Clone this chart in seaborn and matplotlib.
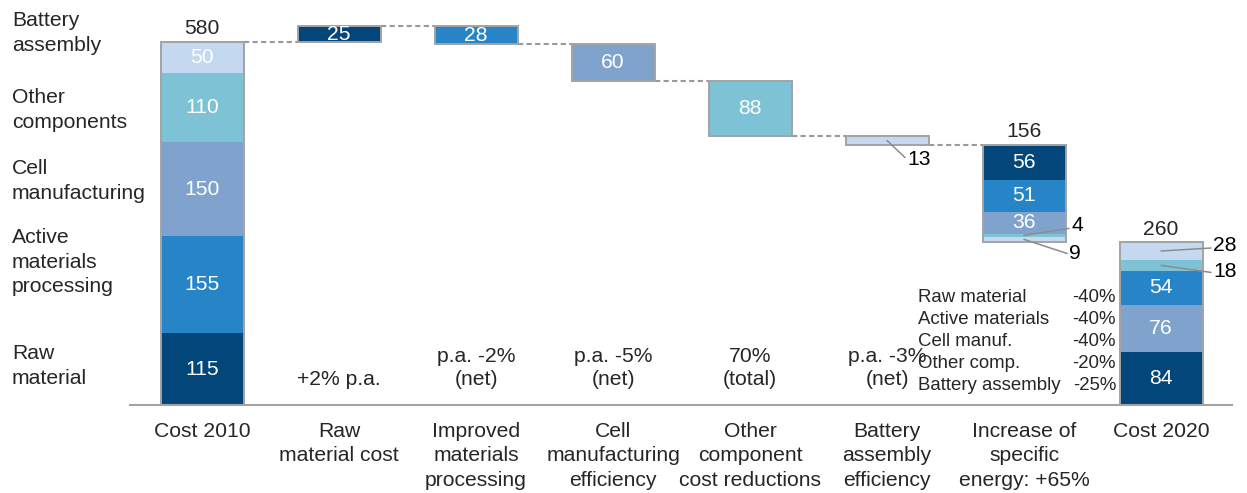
import numpy as np
import pandas as pd
import matplotlib
matplotlib.use("Agg")
import matplotlib.pyplot as plt
import seaborn as sns

# ---------------- data ----------------
categories = ["Cost 2010", "Raw\nmaterial cost", "Improved\nmaterials\nprocessing",
              "Cell\nmanufacturing\nefficiency", "Other\ncomponent\ncost reductions",
              "Battery\nassembly\nefficiency", "Increase of\nspecific\nenergy: +65%", "Cost 2020"]
layers = ["Raw\nmaterial", "Active\nmaterials\nprocessing", "Cell\nmanufacturing",
          "Other\ncomponents", "Battery\nassembly"]
layer_colors = ["#02467a", "#2785c7", "#80a3cd", "#7ec3d5", "#c4d9f0"]

cost_2010 = [115, 155, 150, 110, 50]       # per layer, bottom -> top
step_changes = [25, -28, -60, -88, -13]    # categories 1..5, one layer each
energy_gain = [56, 51, 36, 4, 9]           # per layer, top -> bottom
cost_2020 = [84, 76, 54, 18, 28]           # bottom -> top
cost_2020_layers = [0, 2, 1, 3, 4]         # colour layer of each 2020 segment
bottom_notes = ["", "+2% p.a.", "p.a. -2%\n(net)", "p.a. -5%\n(net)",
                "70%\n(total)", "p.a. -3%\n(net)", "", ""]
reduction_names = ["Raw material", "Active materials", "Cell manuf.",
                   "Other comp.", "Battery assembly"]
reduction_pcts = ["-40%", "-40%", "-40%", "-20%", "-25%"]

# ---------------- style ----------------
sns.set_style("white")
plt.rcParams["font.family"] = ["Liberation Sans", "DejaVu Sans"]
FS = 15.2
GRAY = "#a3a3a3"

W, H = 1247, 493
fig = plt.figure(figsize=(W / 100, H / 100), dpi=100)
ax = fig.add_axes([130 / W, 88 / H, 1102 / W, 405 / H])

# ---------------- build segments ----------------
segs = []  # (cat, layer, bottom, height)
b = 0
for li, v in enumerate(cost_2010):
    segs.append((0, li, b, v))
    b += v
level = b
levels = [level]
for k, d in enumerate(step_changes):
    ci = k + 1
    new = level + d
    segs.append((ci, k, min(level, new), abs(d)))
    level = new
    levels.append(level)
top = level
for li, v in enumerate(energy_gain):
    segs.append((6, li, top - v, v))
    top -= v
b = 0
for li, v in zip(cost_2020_layers, cost_2020):
    segs.append((7, li, b, v))
    b += v

n = len(categories)
BW = 0.606
for li in range(len(layers)):
    heights = np.zeros(n)
    bottoms = np.zeros(n)
    for ci, l, bo, h in segs:
        if l == li:
            heights[ci] = h
            bottoms[ci] = bo
    df = pd.DataFrame({"cat": categories, "h": heights})
    sns.barplot(data=df, x="cat", y="h", order=categories, bottom=bottoms,
                color=layer_colors[li], saturation=1, width=BW, errorbar=None,
                linewidth=0, ax=ax)

# outlines of each column
bots = np.full(n, np.inf)
tops = np.full(n, -np.inf)
for ci, l, bo, h in segs:
    bots[ci] = min(bots[ci], bo)
    tops[ci] = max(tops[ci], bo + h)
ax.bar(np.arange(n), tops - bots, bottom=bots, width=BW, fill=False,
       edgecolor=GRAY, linewidth=1.4, zorder=3)

# dashed connectors
for i, lv in enumerate(levels):
    ax.plot([i + BW / 2, i + 1 - BW / 2], [lv, lv], color="#999999", lw=1.5,
            ls=(0, (2.5, 1.6)), zorder=1)

# ---------------- labels ----------------
external = {
    (5, 4): ((18, -17), (20, -19)),
    (6, 3): ((45, 7), (47, 10)),
    (6, 4): ((43, -14), (45, -14)),
    (7, 4): ((50, 3), (52, 6)),
    (7, 3): ((50, -7), (52, -6)),
}
for ci, l, bo, h in segs:
    mid = bo + h / 2
    if (ci, l) in external:
        (lx, ly), (tx, ty) = external[(ci, l)]
        ax.annotate("", xy=(ci, mid), xytext=(lx, ly), textcoords="offset pixels",
                    arrowprops=dict(arrowstyle="-", color="#8c8c8c", lw=1.1,
                                    shrinkA=0, shrinkB=0), zorder=4)
        ax.annotate(f"{h:g}", xy=(ci, mid), xytext=(tx, ty), textcoords="offset pixels",
                    ha="left", va="center", fontsize=FS, color="black", zorder=4)
    else:
        ax.text(ci, mid, f"{h:g}", ha="center", va="center", fontsize=FS,
                color="white", zorder=4)

for ci in (0, 6, 7):
    ax.annotate(f"{tops[ci] - bots[ci]:g}", xy=(ci, tops[ci]), xytext=(0, 2.5),
                textcoords="offset points", ha="center", va="bottom", fontsize=FS)

for ci, note in enumerate(bottom_notes):
    if note:
        y = 40 if "\n" not in note else 59
        ax.text(ci, y, note, ha="center", va="center", fontsize=FS, linespacing=1.27)

# legend-like labels on the left
left_y = [366, 262, 181, 110, 33]
for name, yp in zip(layers, left_y):
    fig.text(12 / W, 1 - yp / H, name, ha="left", va="center", fontsize=FS,
             linespacing=1.36)

# reduction list
row_y = [297, 319, 341, 363, 386]
for name, pct, yp in zip(reduction_names, reduction_pcts, row_y):
    fig.text(918 / W, 1 - yp / H, name, ha="left", va="center", fontsize=13.4)
    fig.text(1116 / W, 1 - yp / H, pct, ha="right", va="center", fontsize=13.4)

# ---------------- axes ----------------
ax.set_xlim(-0.526, 7.518)
ax.set_ylim(0, 647)
ax.set_xticks(np.arange(n))
ax.set_xticklabels(categories, fontsize=FS, linespacing=1.34)
ax.tick_params(axis="x", length=0, pad=12.5)
ax.set_yticks([])
ax.set_xlabel("")
ax.set_ylabel("")
for s in ("top", "left", "right"):
    ax.spines[s].set_visible(False)
ax.spines["bottom"].set_color(GRAY)
ax.spines["bottom"].set_linewidth(1.5)
ax.patch.set_alpha(0)

fig.savefig("out.png", dpi=100)
